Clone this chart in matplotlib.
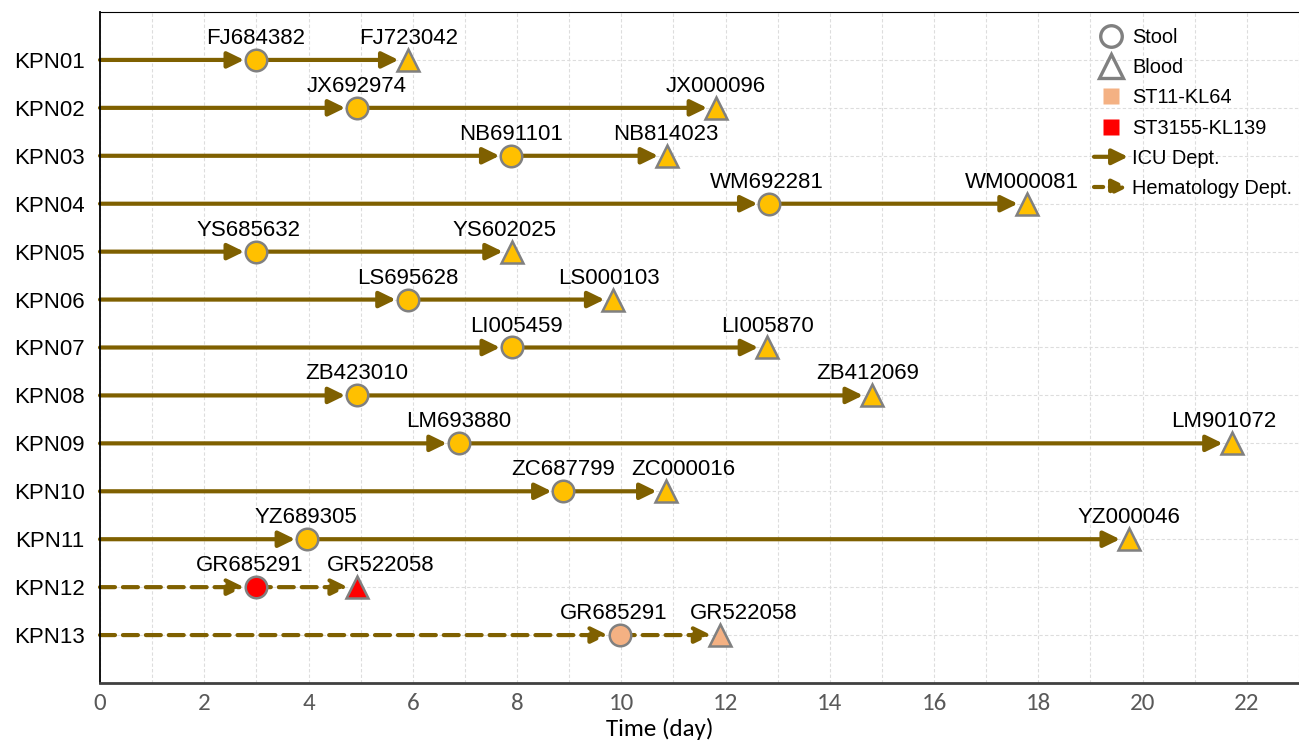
import matplotlib
matplotlib.use("Agg")
import matplotlib.pyplot as plt
from matplotlib.lines import Line2D
from matplotlib.patches import FancyArrowPatch
from matplotlib.legend_handler import HandlerBase

plt.rcParams['font.family'] = ['Liberation Sans', 'DejaVu Sans']

# ---------------- data ----------------
samples = ['KPN01', 'KPN02', 'KPN03', 'KPN04', 'KPN05', 'KPN06', 'KPN07',
           'KPN08', 'KPN09', 'KPN10', 'KPN11', 'KPN12', 'KPN13']
stool_day = [2.99, 4.93, 7.89, 12.84, 2.99, 5.90, 7.90, 4.93, 6.88, 8.89, 3.97, 2.99, 9.97]
blood_day = [5.90, 11.82, 10.88, 17.78, 7.90, 9.85, 12.80, 14.81, 21.71, 10.85, 19.74, 4.93, 11.90]
stool_id = ['FJ684382', 'JX692974', 'NB691101', 'WM692281', 'YS685632', 'LS695628',
            'LI005459', 'ZB423010', 'LM693880', 'ZC687799', 'YZ689305', 'GR685291', 'GR685291']
blood_id = ['FJ723042', 'JX000096', 'NB814023', 'WM000081', 'YS602025', 'LS000103',
            'LI005870', 'ZB412069', 'LM901072', 'ZC000016', 'YZ000046', 'GR522058', 'GR522058']
dept = ['ICU'] * 11 + ['Hematology'] * 2
strain = ['other'] * 11 + ['ST3155-KL139', 'ST11-KL64']
x_ticks = list(range(0, 23, 2))

# ---------------- styles ----------------
line_color = '#7F6000'
edge_color = '#808080'
fill_colors = {'other': '#FFC000', 'ST3155-KL139': '#FF0000', 'ST11-KL64': '#F4B183'}
dept_ls = {'ICU': '-', 'Hematology': (0, (3.6, 1.9))}
# horizontal nudges of the sample-id labels (points)
stool_lab_dx = [0, 0, 0, -2, -5, 0, 3, 0, 0, 0, -1, -4.5, -4.5]
blood_lab_dx = [1, 0, -1, -3.5, -5.5, -3, 0, -3.5, -5.5, 13, 0, 17, 17]

fig = plt.figure(figsize=(12.99, 7.40), dpi=100)
ax = fig.add_axes([100 / 1299, 1 - 683 / 740, 1 - 100 / 1299, (683 - 12) / 740])

arrow_style = '-|>,head_length=0.45,head_width=0.22'
lab_size = 16
for i, name in enumerate(samples):
    y = i + 1
    ls = dept_ls[dept[i]]
    fc = fill_colors[strain[i]]
    # admission -> stool
    ax.annotate('', xy=(stool_day[i], y), xytext=(0, y),
                arrowprops=dict(arrowstyle=arrow_style, mutation_scale=22,
                                color=line_color, lw=3, linestyle=ls,
                                shrinkA=0, shrinkB=8.5), zorder=2)
    # stool -> blood
    ax.annotate('', xy=(blood_day[i], y), xytext=(stool_day[i], y),
                arrowprops=dict(arrowstyle=arrow_style, mutation_scale=22,
                                color=line_color, lw=3, linestyle=ls,
                                shrinkA=0, shrinkB=6.5), zorder=2)
    ax.plot([stool_day[i]], [y], marker='o', ms=15.5, mfc=fc, mec=edge_color,
            mew=1.8, ls='none', zorder=4)
    ax.plot([blood_day[i]], [y], marker='^', ms=16.5, mfc=fc, mec=edge_color,
            mew=1.8, ls='none', zorder=4)
    ax.annotate(stool_id[i], xy=(stool_day[i], y), xytext=(stool_lab_dx[i], 11.5),
                textcoords='offset points', ha='center', va='baseline',
                fontsize=lab_size, zorder=5)
    ax.annotate(blood_id[i], xy=(blood_day[i], y), xytext=(blood_lab_dx[i], 11.5),
                textcoords='offset points', ha='center', va='baseline',
                fontsize=lab_size, zorder=5)

ax.set_xlim(0, 23)
ax.set_ylim(14, 0)
ax.set_yticks(range(1, len(samples) + 1))
ax.set_yticklabels(samples, fontsize=16)
ax.set_xticks(x_ticks)
ax.set_xticks(range(0, 24), minor=True)
ax.set_xticklabels([str(t) for t in x_ticks], fontsize=18, color='#595959',
                   family=['Carlito', 'Liberation Sans Narrow', 'Liberation Sans'])
ax.tick_params(axis='both', which='both', length=0)
ax.tick_params(axis='y', pad=11)
ax.tick_params(axis='x', pad=7)
ax.grid(True, which='both', axis='x', color='#DDDDDD', ls=(0, (3, 2)), lw=0.8)
ax.grid(True, which='major', axis='y', color='#DDDDDD', ls=(0, (3, 2)), lw=0.8)
ax.set_axisbelow(True)

ax.spines['right'].set_visible(False)
ax.spines['left'].set_color('black')
ax.spines['left'].set_linewidth(1.3)
ax.spines['top'].set_color('black')
ax.spines['top'].set_linewidth(0.8)
ax.spines['bottom'].set_color('#404040')
ax.spines['bottom'].set_linewidth(2.0)

fig.text(660 / 1299, 1 - 718 / 740, 'Time (day)', ha='center', va='top', fontsize=18,
         family=['Carlito', 'Liberation Sans Narrow', 'Liberation Sans'])


# ---------------- legend ----------------
class HandlerArrow(HandlerBase):
    def __init__(self, ls):
        super().__init__()
        self.ls = ls

    def create_artists(self, legend, orig_handle, xdescent, ydescent, width,
                       height, fontsize, trans):
        y = height / 2 - ydescent
        a = FancyArrowPatch((-xdescent, y), (-xdescent + width, y),
                            arrowstyle=arrow_style, mutation_scale=21,
                            color=line_color, lw=3, linestyle=self.ls,
                            shrinkA=0, shrinkB=0, transform=trans)
        return [a]


h_stool = Line2D([], [], marker='o', ls='none', ms=15.5, mfc='none', mec=edge_color, mew=2.4)
h_blood = Line2D([], [], marker='^', ls='none', ms=17, mfc='none', mec=edge_color, mew=2.4)
h_st11 = Line2D([], [], marker='s', ls='none', ms=12, mfc=fill_colors['ST11-KL64'], mec='none')
h_st3155 = Line2D([], [], marker='s', ls='none', ms=12, mfc=fill_colors['ST3155-KL139'], mec='none')
h_icu = Line2D([], [], color=line_color)
h_hem = Line2D([], [], color=line_color, ls='--')
leg = ax.legend([h_stool, h_blood, h_st11, h_st3155, h_icu, h_hem],
                ['Stool', 'Blood', 'ST11-KL64', 'ST3155-KL139', 'ICU Dept.', 'Hematology Dept.'],
                handler_map={h_icu: HandlerArrow('-'), h_hem: HandlerArrow((0, (2.2, 1.6)))},
                loc='upper left', bbox_to_anchor=(1094 / 1299, 1 - 28 / 740),
                bbox_transform=fig.transFigure, frameon=False, fontsize=14.4,
                borderpad=0, borderaxespad=0, handlelength=1.7, handletextpad=0.2,
                labelspacing=0.56)

fig.savefig('out.png', dpi=100)
